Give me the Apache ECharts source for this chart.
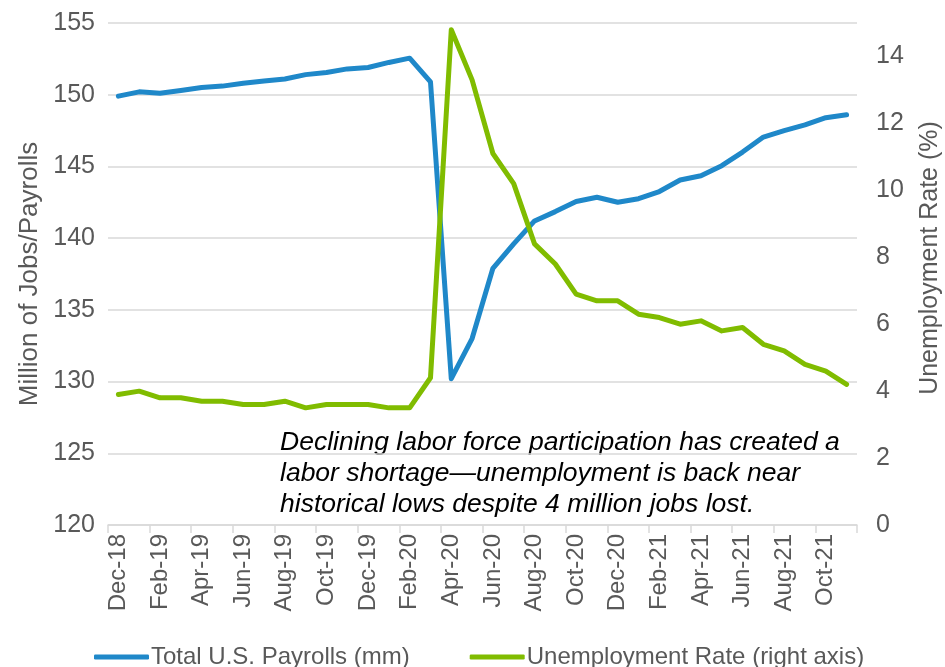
<!DOCTYPE html>
<html>
<head>
<meta charset="utf-8">
<script src="https://cdn.jsdelivr.net/npm/echarts@6/dist/echarts.min.js"></script>
<style>
html,body{margin:0;padding:0;background:#fff;}
#chart{width:945px;height:667px;}
</style>
</head>
<body>
<div id="chart"></div>
<script>
const categories = ['Dec-18','Jan-19','Feb-19','Mar-19','Apr-19','May-19','Jun-19','Jul-19','Aug-19','Sep-19','Oct-19','Nov-19',
  'Dec-19','Jan-20','Feb-20','Mar-20','Apr-20','May-20','Jun-20','Jul-20','Aug-20','Sep-20','Oct-20','Nov-20',
  'Dec-20','Jan-21','Feb-21','Mar-21','Apr-21','May-21','Jun-21','Jul-21','Aug-21','Sep-21','Oct-21','Nov-21'];
const payrolls = [149.9,150.2,150.1,150.3,150.5,150.6,150.8,150.95,151.1,151.4,151.55,151.8,
  151.9,152.25,152.55,150.9,130.2,133.0,137.9,139.6,141.2,141.85,142.55,142.85,
  142.5,142.75,143.25,144.05,144.35,145.05,146.0,147.05,147.5,147.9,148.4,148.6];
const unemployment = [3.9,4.0,3.8,3.8,3.7,3.7,3.6,3.6,3.7,3.5,3.6,3.6,
  3.6,3.5,3.5,4.4,14.8,13.3,11.1,10.2,8.4,7.8,6.9,6.7,
  6.7,6.3,6.2,6.0,6.1,5.8,5.9,5.4,5.2,4.8,4.6,4.2];
const seriesNames = ['Total U.S. Payrolls (mm)','Unemployment Rate (right axis)'];
const leftAxisTitle = 'Million of Jobs/Payrolls';
const rightAxisTitle = 'Unemployment Rate (%)';
const noteLines = ['Declining labor force participation has created a',
  'labor shortage\u2014unemployment is back near',
  'historical lows despite 4 million jobs lost.'];

const FONT = '"Liberation Sans", Arial, sans-serif';
const GRAY = '#595959';
const chart = echarts.init(document.getElementById('chart'), null, {renderer:'canvas'});
chart.setOption({
  animation:false,
  backgroundColor:'#fff',
  grid:{left:108,right:88,top:23,bottom:142,containLabel:false,outerBoundsMode:'none'},
  legend:{
    data:seriesNames,
    left:89, top:640,
    itemWidth:55, itemHeight:5, itemGap:60,
    icon:'roundRect',
    textStyle:{fontFamily:FONT,fontSize:24,color:GRAY,padding:[0,0,0,-3]}
  },
  xAxis:{
    type:'category',
    data:categories,
    boundaryGap:true,
    axisLine:{show:true,lineStyle:{color:'#D9D9D9',width:1.5}},
    axisTick:{show:true,interval:1,length:8,lineStyle:{color:'#D9D9D9',width:1.5}},
    axisLabel:{interval:1,rotate:90,fontFamily:FONT,fontSize:24,color:GRAY,margin:9}
  },
  yAxis:[{
    type:'value',min:120,max:155,interval:5,
    name:leftAxisTitle,nameLocation:'middle',nameGap:65,nameRotate:90,
    nameTextStyle:{fontFamily:FONT,fontSize:26,color:GRAY},
    axisLine:{show:false},axisTick:{show:false},
    axisLabel:{fontFamily:FONT,fontSize:25,color:GRAY,margin:13},
    splitLine:{lineStyle:{color:'#D9D9D9',width:1.5}}
  },{
    type:'value',min:0,max:15,interval:2,
    name:rightAxisTitle,nameLocation:'middle',nameGap:61,nameRotate:90,
    nameTextStyle:{fontFamily:FONT,fontSize:25,color:GRAY,padding:[0,0,0,32]},
    axisLine:{show:false},axisTick:{show:false},
    axisLabel:{fontFamily:FONT,fontSize:25,color:GRAY,margin:19,showMaxLabel:false},
    splitLine:{show:false}
  }],
  series:[{
    name:seriesNames[0],type:'line',data:payrolls,yAxisIndex:0,
    symbol:'none',lineStyle:{width:5,color:'#1F88C9',cap:'round',join:'round'},itemStyle:{color:'#1F88C9'}
  },{
    name:seriesNames[1],type:'line',data:unemployment,yAxisIndex:1,
    symbol:'none',lineStyle:{width:5,color:'#80BC00',cap:'round',join:'round'},itemStyle:{color:'#80BC00'}
  }],
  graphic:[{
    type:'text',left:280,top:427,
    style:{text:noteLines.join('\n'),fontFamily:FONT,fontSize:26.5,fontStyle:'italic',fill:'#000',lineHeight:31}
  }]
});
</script>
</body>
</html>
